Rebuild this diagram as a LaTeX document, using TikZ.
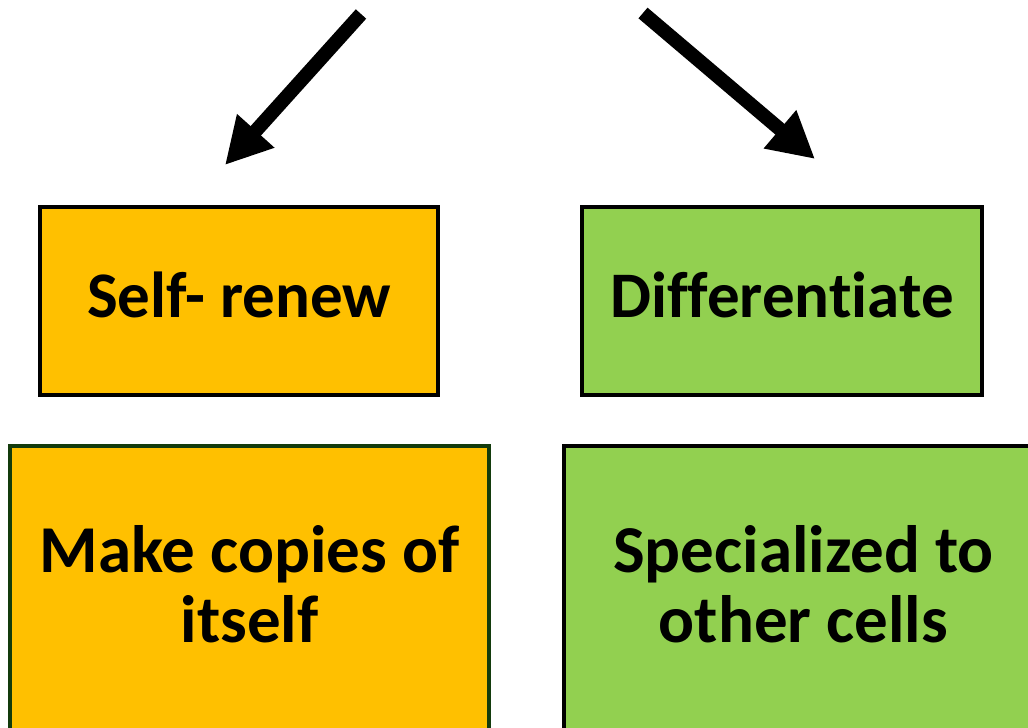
\documentclass[tikz,border=0pt]{standalone}
\usepackage{fontspec}
\setmainfont[Ligatures=NoCommon]{Carlito}
\usepackage{tikz}
\usetikzlibrary{arrows.meta}
\definecolor{renewfill}{HTML}{FFC000}
\definecolor{difffill}{HTML}{92D050}
\definecolor{copyedge}{HTML}{133B0C}
\tikzset{
  every node/.style={
    font=\fontsize{65}{70}\selectfont\bfseries
  },
  box/.style={
    shape=rectangle,
    draw=black,
    line width=4pt,
    align=center,
    text=black
  },
  renew/.style={
    box,
    fill=renewfill,
    minimum width=398pt,
    minimum height=188pt,
    text height=32pt,
    text depth=0pt
  },
  differ/.style={
    box,
    fill=difffill,
    minimum width=400pt,
    minimum height=188pt,
    text height=32pt,
    text depth=0pt
  },
  detail/.style n args={2}{
    box,
    fill=#1,
    draw=#2,
    minimum width=479pt,
    minimum height=300pt,
    text height=100pt,
    text depth=8pt,
    font=\fontsize{67}{70}\selectfont\bfseries
  },
  fate/.style={
    line width=14pt,
    -{Triangle[length=46pt,width=47pt]}
  }
}

\begin{document}
\begin{tikzpicture}[x=1pt,y=-1pt]
  \useasboundingbox (0,0) rectangle (1028,728);
  \clip (0,0) rectangle (1028,728);
  % the two fates
  \node [renew] (selfrenew) at (239,301) {Self- renew};
  \node [differ] (differentiate) at (782,301) {Differentiate};
  % what they mean
  \node [detail={renewfill}{copyedge}] (copies) at (249.5,596) {Make copies of\\itself};
  \node [detail={difffill}{black}] (specialized) at (803.5,596) {Specialized to\\other cells};
  % arrows coming in from the top
  \coordinate (renew start) at (361,14);
  \coordinate (renew tip) at (225,165);
  \coordinate (differ start) at (643,13);
  \coordinate (differ tip) at (815,159);
  \draw [fate] (renew start) -- (renew tip);
  \draw [fate] (differ start) -- (differ tip);
\end{tikzpicture}
\end{document}
